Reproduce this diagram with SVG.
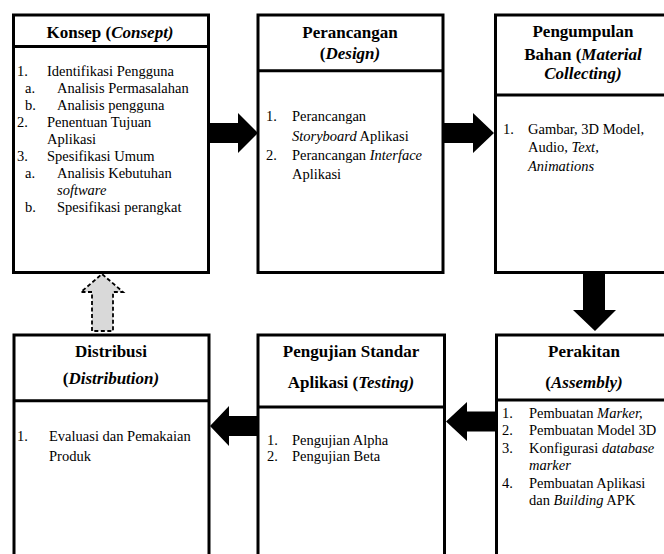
<svg xmlns="http://www.w3.org/2000/svg" width="664" height="554" viewBox="0 0 664 554">
<rect width="664" height="554" fill="#fff"/>

<g id="konsep">
<rect x="13.5" y="15" width="195" height="257.5" fill="#fff" stroke="#000" stroke-width="3"/>
<line x1="13.5" y1="46.5" x2="208.5" y2="46.5" stroke="#000" stroke-width="3"/>
<text font-family="Liberation Serif" font-size="17" font-weight="bold" text-anchor="middle" x="110" y="38">Konsep (<tspan font-style="italic">Consept)</tspan></text>
<text font-family="Liberation Serif" font-size="14.5" x="17" y="76">1.</text>
<text font-family="Liberation Serif" font-size="14.5" x="47" y="76">Identifikasi Pengguna</text>
<text font-family="Liberation Serif" font-size="14.5" x="25" y="93">a.</text>
<text font-family="Liberation Serif" font-size="14.5" x="57" y="93">Analisis Permasalahan</text>
<text font-family="Liberation Serif" font-size="14.5" x="25" y="110">b.</text>
<text font-family="Liberation Serif" font-size="14.5" x="57" y="110">Analisis pengguna</text>
<text font-family="Liberation Serif" font-size="14.5" x="17" y="127">2.</text>
<text font-family="Liberation Serif" font-size="14.5" x="47" y="127">Penentuan Tujuan</text>
<text font-family="Liberation Serif" font-size="14.5" x="47" y="144">Aplikasi</text>
<text font-family="Liberation Serif" font-size="14.5" x="17" y="161">3.</text>
<text font-family="Liberation Serif" font-size="14.5" x="47" y="161">Spesifikasi Umum</text>
<text font-family="Liberation Serif" font-size="14.5" x="25" y="178">a.</text>
<text font-family="Liberation Serif" font-size="14.5" x="57" y="178">Analisis Kebutuhan</text>
<text font-family="Liberation Serif" font-size="14.5" font-style="italic" x="57" y="195">software</text>
<text font-family="Liberation Serif" font-size="14.5" x="25" y="212">b.</text>
<text font-family="Liberation Serif" font-size="14.5" x="57" y="212">Spesifikasi perangkat</text>
</g>

<g id="perancangan">
<rect x="258" y="15" width="185" height="257.5" fill="#fff" stroke="#000" stroke-width="3"/>
<line x1="258" y1="70.7" x2="443" y2="70.7" stroke="#000" stroke-width="3"/>
<text font-family="Liberation Serif" font-size="17" font-weight="bold" text-anchor="middle" x="350" y="37.5">Perancangan</text>
<text font-family="Liberation Serif" font-size="17" font-weight="bold" text-anchor="middle" x="350" y="58.5">(<tspan font-style="italic">Design)</tspan></text>
<text font-family="Liberation Serif" font-size="14.5" x="266" y="120.5">1.</text>
<text font-family="Liberation Serif" font-size="14.5" x="292" y="120.5">Perancangan</text>
<text font-family="Liberation Serif" font-size="14.5" x="292" y="140.5"><tspan font-style="italic">Storyboard</tspan> Aplikasi</text>
<text font-family="Liberation Serif" font-size="14.5" x="266" y="160">2.</text>
<text font-family="Liberation Serif" font-size="14.5" x="292" y="160">Perancangan <tspan font-style="italic">Interface</tspan></text>
<text font-family="Liberation Serif" font-size="14.5" x="292" y="179">Aplikasi</text>
</g>

<g id="pengumpulan">
<rect x="495.5" y="15" width="180" height="257.5" fill="#fff" stroke="#000" stroke-width="3"/>
<line x1="495.5" y1="95" x2="670" y2="95" stroke="#000" stroke-width="3"/>
<text font-family="Liberation Serif" font-size="17" font-weight="bold" text-anchor="middle" x="583" y="37">Pengumpulan</text>
<text font-family="Liberation Serif" font-size="17" font-weight="bold" text-anchor="middle" x="583" y="59.5">Bahan (<tspan font-style="italic">Material</tspan></text>
<text font-family="Liberation Serif" font-size="17" font-weight="bold" font-style="italic" text-anchor="middle" x="583" y="79">Collecting)</text>
<text font-family="Liberation Serif" font-size="14.5" x="503" y="133.5">1.</text>
<text font-family="Liberation Serif" font-size="14.5" x="528" y="133.5">Gambar, 3D Model,</text>
<text font-family="Liberation Serif" font-size="14.5" x="528" y="152">Audio, <tspan font-style="italic">Text,</tspan></text>
<text font-family="Liberation Serif" font-size="14.5" font-style="italic" x="528" y="170.5">Animations</text>
</g>

<g id="distribusi">
<rect x="14" y="335" width="195" height="240" fill="#fff" stroke="#000" stroke-width="3"/>
<line x1="14" y1="400.7" x2="209" y2="400.7" stroke="#000" stroke-width="3"/>
<text font-family="Liberation Serif" font-size="17" font-weight="bold" text-anchor="middle" x="111" y="357">Distribusi</text>
<text font-family="Liberation Serif" font-size="17" font-weight="bold" text-anchor="middle" x="111" y="384">(<tspan font-style="italic">Distribution)</tspan></text>
<text font-family="Liberation Serif" font-size="14.5" x="17" y="441">1.</text>
<text font-family="Liberation Serif" font-size="14.5" x="49" y="441">Evaluasi dan Pemakaian</text>
<text font-family="Liberation Serif" font-size="14.5" x="49" y="461">Produk</text>
</g>

<g id="pengujian">
<rect x="258" y="335" width="186.5" height="240" fill="#fff" stroke="#000" stroke-width="3"/>
<line x1="258" y1="407" x2="444.5" y2="407" stroke="#000" stroke-width="3"/>
<text font-family="Liberation Serif" font-size="17" font-weight="bold" text-anchor="middle" x="351" y="357.3">Pengujian Standar</text>
<text font-family="Liberation Serif" font-size="17" font-weight="bold" text-anchor="middle" x="351" y="388.3">Aplikasi (<tspan font-style="italic">Testing)</tspan></text>
<text font-family="Liberation Serif" font-size="14.5" x="267" y="444.5">1.</text>
<text font-family="Liberation Serif" font-size="14.5" x="292" y="444.5">Pengujian Alpha</text>
<text font-family="Liberation Serif" font-size="14.5" x="267" y="460.5">2.</text>
<text font-family="Liberation Serif" font-size="14.5" x="292" y="460.5">Pengujian Beta</text>
</g>

<g id="perakitan">
<rect x="496.5" y="335" width="180" height="240" fill="#fff" stroke="#000" stroke-width="3"/>
<line x1="496.5" y1="400" x2="670" y2="400" stroke="#000" stroke-width="3"/>
<text font-family="Liberation Serif" font-size="17" font-weight="bold" text-anchor="middle" x="584" y="357.3">Perakitan</text>
<text font-family="Liberation Serif" font-size="17" font-weight="bold" text-anchor="middle" x="584" y="387.7">(<tspan font-style="italic">Assembly)</tspan></text>
<text font-family="Liberation Serif" font-size="14.5" x="502" y="418">1.</text>
<text font-family="Liberation Serif" font-size="14.5" x="529" y="418">Pembuatan <tspan font-style="italic">Marker,</tspan></text>
<text font-family="Liberation Serif" font-size="14.5" x="502" y="435">2.</text>
<text font-family="Liberation Serif" font-size="14.5" x="529" y="435">Pembuatan Model 3D</text>
<text font-family="Liberation Serif" font-size="14.5" x="502" y="452.5">3.</text>
<text font-family="Liberation Serif" font-size="14.5" x="529" y="452.5">Konfigurasi <tspan font-style="italic">database</tspan></text>
<text font-family="Liberation Serif" font-size="14.5" font-style="italic" x="529" y="469.5">marker</text>
<text font-family="Liberation Serif" font-size="14.5" x="502" y="487.5">4.</text>
<text font-family="Liberation Serif" font-size="14.5" x="529" y="487.5">Pembuatan Aplikasi</text>
<text font-family="Liberation Serif" font-size="14.5" x="529" y="505">dan <tspan font-style="italic">Building</tspan> APK</text>
</g>

<g id="connectors" fill="#000">
<polygon points="209,123 238,123 238,113 258,133 238,153 238,143 209,143"/>
<polygon points="444,123 473,123 473,113 494,133 473,153 473,143 444,143"/>
<polygon points="583,274 605,274 605,310 616,310 595,331 573,310 583,310"/>
<polygon points="496,411.5 467,411.5 467,402 446,421.5 467,441 467,431.5 496,431.5"/>
<polygon points="257,416 229,416 229,406 210,426 229,446 229,436 257,436"/>
<polygon points="92,331 92,292 81,292 102,274 123,292 113,292 113,331" fill="#d9d9d9" stroke="#000" stroke-width="1.8" stroke-dasharray="4 2.5"/>
</g>
</svg>
